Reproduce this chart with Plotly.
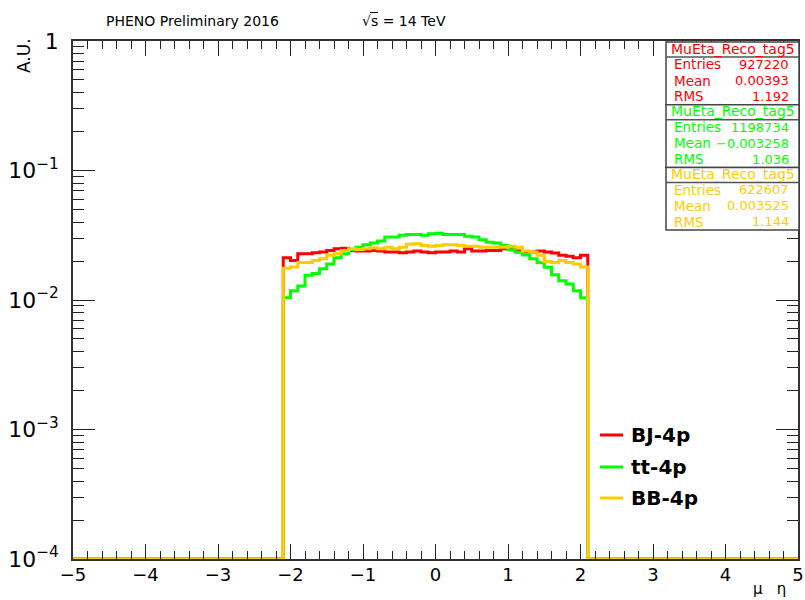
import numpy as np
import plotly.graph_objects as go

# ---------------- data ----------------
eta_axis_low, eta_axis_high, bin_width = -5.0, 5.0, 0.1
filled_low_edge = -2.1   # first non-empty bin lower edge

series_names = ["BJ-4p", "tt-4p", "BB-4p"]
series_colors = ["#ff0000", "#00ff00", "#ffcc00"]

bj_values = [0.0212, 0.0202, 0.0228, 0.0228, 0.0232, 0.0235, 0.0241, 0.0249, 0.0251, 0.0241,
             0.0239, 0.0239, 0.0241, 0.0239, 0.0235, 0.0235, 0.0232, 0.0235, 0.0239, 0.0235,
             0.0232, 0.0235, 0.0235, 0.0239, 0.0235, 0.0249, 0.0239, 0.0239, 0.0241, 0.0241,
             0.0249, 0.0249, 0.0239, 0.0235, 0.0235, 0.0239, 0.0235, 0.0231, 0.0222, 0.0218,
             0.0212, 0.0222]
tt_values = [0.0104, 0.0118, 0.0128, 0.0155, 0.0160, 0.0174, 0.0190, 0.0212, 0.0228, 0.0244,
             0.0256, 0.0267, 0.0275, 0.0285, 0.0306, 0.0306, 0.0316, 0.0321, 0.0320, 0.0316,
             0.0325, 0.0327, 0.0321, 0.0321, 0.0320, 0.0311, 0.0306, 0.0292, 0.0279, 0.0275,
             0.0264, 0.0244, 0.0234, 0.0223, 0.0208, 0.0194, 0.0179, 0.0157, 0.0141, 0.0133,
             0.0118, 0.0104]
bb_values = [0.0176, 0.0180, 0.0195, 0.0195, 0.0202, 0.0208, 0.0222, 0.0228, 0.0241, 0.0249,
             0.0245, 0.0249, 0.0253, 0.0249, 0.0256, 0.0249, 0.0256, 0.0270, 0.0272, 0.0264,
             0.0260, 0.0264, 0.0267, 0.0267, 0.0264, 0.0260, 0.0260, 0.0256, 0.0256, 0.0256,
             0.0256, 0.0260, 0.0256, 0.0239, 0.0235, 0.0222, 0.0198, 0.0195, 0.0202, 0.0195,
             0.0190, 0.0180]

stat_titles = ["MuEta_Reco_tag5", "MuEta_Reco_tag5", "MuEta_Reco_tag5"]
stat_entries = [927220, 1198734, 622607]
stat_means = [0.00393, -0.003258, 0.003525]
stat_rms = [1.192, 1.036, 1.144]

x_tick_values = [-5, -4, -3, -2, -1, 0, 1, 2, 3, 4, 5]
y_floor = 1e-4
y_top = 1.0

# ---------------- layout geometry (pixels) ----------------
W_FIG, H_FIG = 805, 600
L, R, T, B = 73, 798, 41, 559
PW, PH = R - L, B - T


def px(x):
    return (x - L) / PW


def py(y):
    return (B - y) / PH


FONT = "DejaVu Sans, Liberation Sans, Arial, sans-serif"

n_bins = int(round((eta_axis_high - eta_axis_low) / bin_width))
edges = np.round(eta_axis_low + bin_width * np.arange(n_bins + 1), 2)
first_idx = int(round((filled_low_edge - eta_axis_low) / bin_width))

fig = go.Figure()
for name, color, vals in zip(series_names, series_colors, [bj_values, tt_values, bb_values]):
    full = np.zeros(n_bins)
    full[first_idx:first_idx + len(vals)] = vals
    shown = np.where(full > 0, full, y_floor)
    yy = np.append(shown, shown[-1])
    fig.add_trace(go.Scatter(x=edges, y=yy, mode="lines", line_shape="hv",
                             line=dict(color=color, width=3), name=name,
                             showlegend=False, hoverinfo="skip"))

shapes = []
annotations = []

# stats boxes
box_left, box_right = 666, 799
box_top0, box_h, title_h, row_h = 42, 62.7, 15, 16
for k in range(3):
    top = box_top0 + k * box_h
    bot = top + box_h
    col = series_colors[k]
    shapes.append(dict(type="rect", xref="paper", yref="paper",
                       x0=px(box_left), x1=px(box_right), y0=py(bot), y1=py(top),
                       fillcolor="white", line=dict(color="#444", width=1.5), layer="above"))
    shapes.append(dict(type="line", xref="paper", yref="paper",
                       x0=px(box_left), x1=px(box_right), y0=py(top + title_h), y1=py(top + title_h),
                       line=dict(color="#555", width=1.5), layer="above"))
    annotations.append(dict(xref="paper", yref="paper", x=px((box_left + box_right) / 2),
                            y=py(top + title_h / 2 - 1), text=stat_titles[k], showarrow=False,
                            xanchor="center", yanchor="middle",
                            font=dict(family=FONT, size=14, color=col)))
    labels = ["Entries", "Mean", "RMS"]
    values = [f"{stat_entries[k]}", f"{stat_means[k]:g}".replace("-", "\u2212"), f"{stat_rms[k]:g}"]
    for j in range(3):
        yc = top + title_h + 7.5 + j * row_h
        annotations.append(dict(xref="paper", yref="paper", x=px(672), y=py(yc), text=labels[j],
                                showarrow=False, xanchor="left", yanchor="middle",
                                font=dict(family=FONT, size=13.5, color=col)))
        annotations.append(dict(xref="paper", yref="paper", x=px(791), y=py(yc), text=values[j],
                                showarrow=False, xanchor="right", yanchor="middle",
                                font=dict(family=FONT, size=13, color=col)))

# legend (drawn manually)
leg_rows = [435, 467, 498]
for name, color, yr in zip(series_names, series_colors, leg_rows):
    shapes.append(dict(type="line", xref="paper", yref="paper", x0=px(600), x1=px(623),
                       y0=py(yr), y1=py(yr), line=dict(color=color, width=3), layer="above"))
    annotations.append(dict(xref="paper", yref="paper", x=px(629), y=py(yr), text=f"<b>{name}</b>",
                            showarrow=False, xanchor="left", yanchor="middle",
                            font=dict(family=FONT, size=20, color="black")))

# titles
annotations.append(dict(xref="paper", yref="paper", x=px(192), y=py(21), text="PHENO Preliminary 2016",
                        showarrow=False, xanchor="center", yanchor="middle",
                        font=dict(family=FONT, size=14, color="black")))
annotations.append(dict(xref="paper", yref="paper", x=px(360), y=py(21), text="\u221as = 14 TeV",
                        showarrow=False, xanchor="left", yanchor="middle",
                        font=dict(family=FONT, size=14, color="black")))
shapes.append(dict(type="line", xref="paper", yref="paper", x0=px(370), x1=px(378),
                   y0=py(12.5), y1=py(12.5), line=dict(color="black", width=1)))
annotations.append(dict(xref="paper", yref="paper", x=px(24), y=py(56), text="A.U.", textangle=-90,
                        showarrow=False, xanchor="center", yanchor="middle",
                        font=dict(family=FONT, size=17, color="black")))
annotations.append(dict(xref="paper", yref="paper", x=px(788), y=py(589),
                        text="\u03bc\u00a0\u00a0\u00a0\u03b7",
                        showarrow=False, xanchor="right", yanchor="middle",
                        font=dict(family=FONT, size=15, color="black")))

fig.update_layout(
    width=W_FIG, height=H_FIG,
    margin=dict(l=L, r=W_FIG - R, t=T, b=H_FIG - B, pad=0),
    paper_bgcolor="white", plot_bgcolor="white",
    showlegend=False,
    shapes=shapes, annotations=annotations,
    xaxis=dict(range=[eta_axis_low, eta_axis_high], tickvals=x_tick_values, automargin=False,
               ticks="inside", ticklen=15, tickwidth=1, tickcolor="#222",
               minor=dict(dtick=0.2, ticks="inside", ticklen=8, tickcolor="#222", tickwidth=1),
               showline=True, linecolor="#333", linewidth=1.5, mirror="allticks",
               showgrid=False, zeroline=False, ticklabelstandoff=-1,
               tickfont=dict(family=FONT, size=18, color="black")),
    yaxis=dict(type="log", range=[np.log10(y_floor), np.log10(y_top)], dtick=1,
               exponentformat="power", automargin=False,
               ticks="inside", ticklen=22, tickwidth=1, tickcolor="#222",
               minor=dict(dtick="D1", ticks="inside", ticklen=11, tickcolor="#222", tickwidth=1),
               showline=True, linecolor="#333", linewidth=1.5, mirror="allticks",
               showgrid=False, zeroline=False, ticklabelstandoff=9,
               tickfont=dict(family=FONT, size=17.5, color="black")),
)

fig.write_html("out.html", config={"displayModeBar": False},
               post_script="document.body.style.margin='0';document.body.style.padding='0';")
